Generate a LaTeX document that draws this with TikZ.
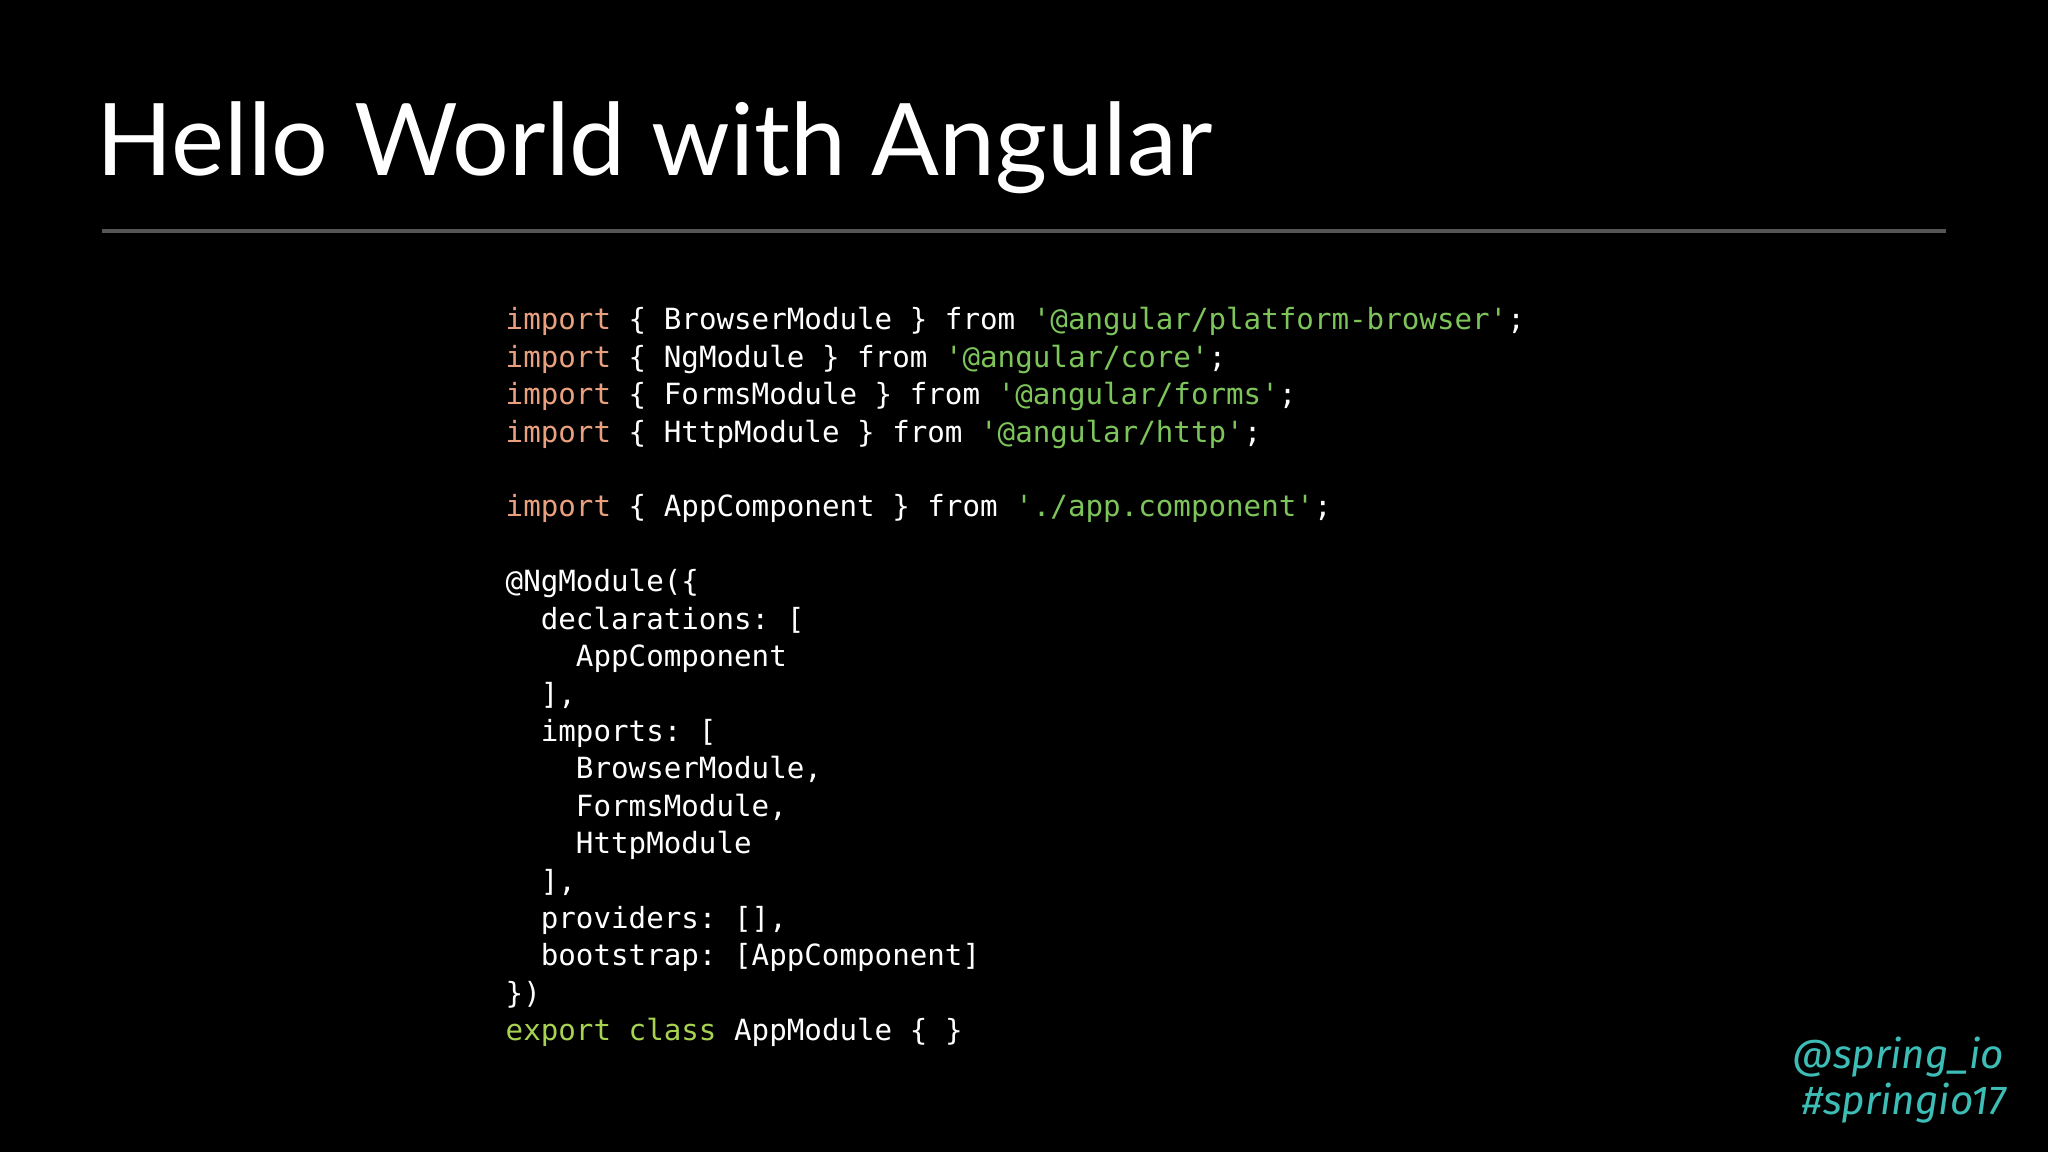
\documentclass[tikz,border=0pt]{standalone}
\usepackage{fontspec}
\setmainfont{Lato}
\setmonofont{DejaVu Sans Mono}
\newfontfamily\handlefont{Fira Sans}
\definecolor{kw}{HTML}{E9A07E}
\definecolor{str}{HTML}{7DC45B}
\definecolor{ex}{HTML}{A8D251}
\definecolor{teal}{HTML}{3DBDB6}
\definecolor{rule}{HTML}{555555}
\begin{document}
\begin{tikzpicture}[x=0.01cm,y=-0.01cm,
  code/.style={anchor=base west,inner sep=0,text=white,font=\ttfamily\fontsize{8.3pt}{10pt}\selectfont},
  handle/.style={anchor=base east,inner sep=0,text=teal,font=\handlefont\itshape\fontsize{11.5pt}{13pt}\selectfont}]
\fill[black] (0,0) rectangle (2048,1152);
\useasboundingbox (0,0) rectangle (2048,1152);
\node[anchor=base west,inner sep=0,text=white,font=\fontsize{28.5pt}{32pt}\selectfont] (title) at (96,176) {Hello World with Angular};
\coordinate (l1) at (102,231); \coordinate (l2) at (1946,231);
\draw[rule,line width=1pt] (l1) -- (l2);
\def\K#1{\textcolor{kw}{#1}}
\def\S#1{\textcolor{str}{#1}}
\node[code] (c1) at (505,330) {\K{import} \{ BrowserModule \} from \S{'@angular/platform-browser'};};
\node[code] (c2) at (505,367.4) {\K{import} \{ NgModule \} from \S{'@angular/core'};};
\node[code] (c3) at (505,404.8) {\K{import} \{ FormsModule \} from \S{'@angular/forms'};};
\node[code] (c4) at (505,442.2) {\K{import} \{ HttpModule \} from \S{'@angular/http'};};
\node[code] (c5) at (505,517) {\K{import} \{ AppComponent \} from \S{'./app.component'};};
\node[code] (c6) at (505,591.8) {@NgModule(\{};
\node[code] (c7) at (505,629.2) {\ \ declarations: [};
\node[code] (c8) at (505,666.6) {\ \ \ \ AppComponent};
\node[code] (c9) at (505,704) {\ \ ],};
\node[code] (c10) at (505,741.4) {\ \ imports: [};
\node[code] (c11) at (505,778.8) {\ \ \ \ BrowserModule,};
\node[code] (c12) at (505,816.2) {\ \ \ \ FormsModule,};
\node[code] (c13) at (505,853.6) {\ \ \ \ HttpModule};
\node[code] (c14) at (505,891) {\ \ ],};
\node[code] (c15) at (505,928.4) {\ \ providers: [],};
\node[code] (c16) at (505,965.8) {\ \ bootstrap: [AppComponent]};
\node[code] (c17) at (505,1003.2) {\})};
\node[code] (c18) at (505,1040.6) {\textcolor{ex}{export class} AppModule \{ \}};
\node[handle] (h1) at (2005,1068) {@spring\_io};
\node[handle] (h2) at (2007,1114) {\#springio17};
\end{tikzpicture}
\end{document}
